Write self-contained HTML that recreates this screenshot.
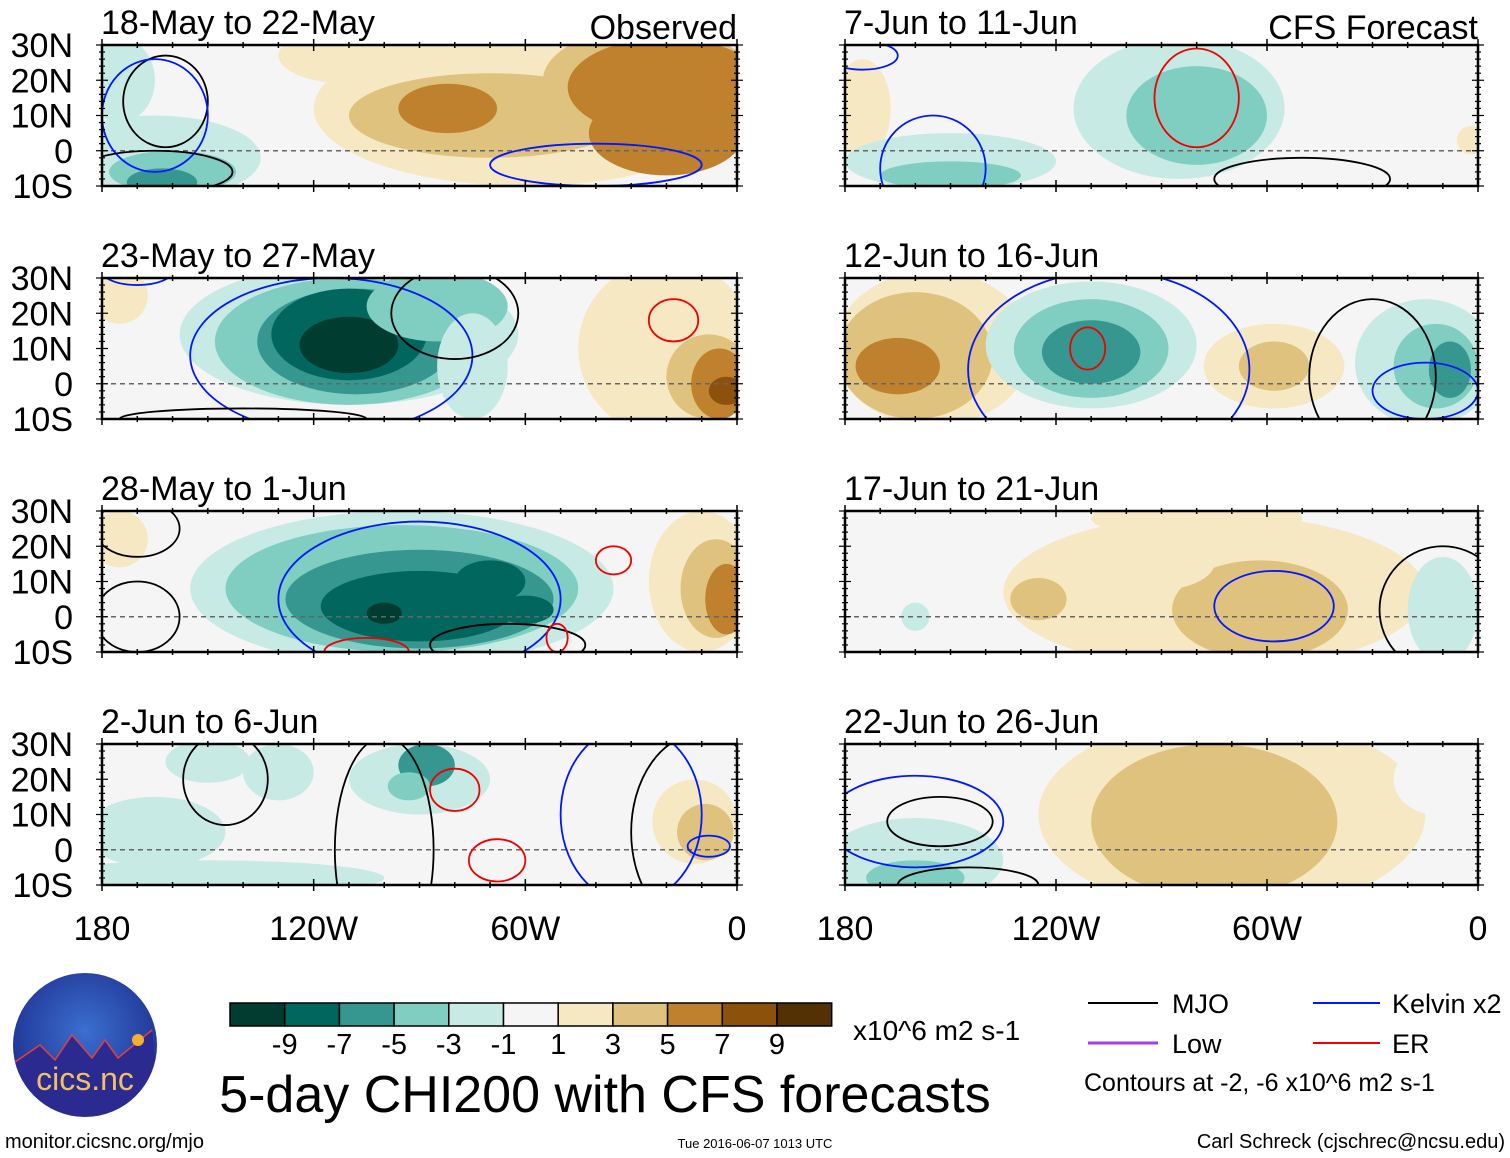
<!DOCTYPE html>
<html><head><meta charset="utf-8"><style>
body{margin:0;background:#fff;}
svg{display:block;font-family:"Liberation Sans",Arial,sans-serif;}
</style></head><body>
<svg id="chart" width="1510" height="1158" viewBox="0 0 1510 1158" xmlns="http://www.w3.org/2000/svg">
<g id="panels"></g>
<g id="colorbar"></g>
<g>
  <defs><radialGradient id="lg" cx="50%" cy="40%" r="60%"><stop offset="0" stop-color="#3a6fd0"/><stop offset="1" stop-color="#1e2f8f"/></radialGradient></defs>
  <circle cx="85" cy="1045" r="72" fill="url(#lg)"/>
  <path d="M15 1062 L40 1045 L55 1060 L72 1035 L92 1058 L105 1040 L118 1058 L152 1030 L155 1060 A72 72 0 0 1 15 1062Z" fill="#2a2a90"/>
  <path d="M15 1062 L40 1045 L55 1060 L72 1035 L92 1058 L105 1040 L118 1058 L152 1030" fill="none" stroke="#e04040" stroke-width="1.5"/>
  <circle cx="138" cy="1040" r="6" fill="#f5b030"/>
  <text x="85" y="1090" text-anchor="middle" font-size="32" fill="#f2c060">cics.nc</text>
</g>
<text x="5" y="1148" font-size="20">monitor.cicsnc.org/mjo</text>
<text x="755" y="1148" font-size="13" text-anchor="middle">Tue 2016-06-07 1013 UTC</text>
<text x="1505" y="1148" font-size="20" text-anchor="end">Carl Schreck (cjschrec@ncsu.edu)</text>
<text x="605" y="1112" font-size="52" text-anchor="middle">5-day CHI200 with CFS forecasts</text>
<text x="853" y="1040" font-size="28">x10^6 m2 s-1</text>
<g>
  <line x1="1088" y1="1003" x2="1158" y2="1003" stroke="#000" stroke-width="2"/><text x="1172" y="1013" font-size="27">MJO</text>
  <line x1="1313" y1="1003" x2="1380" y2="1003" stroke="#0018ff" stroke-width="2"/><text x="1392" y="1013" font-size="27">Kelvin x2</text>
  <line x1="1088" y1="1043" x2="1158" y2="1043" stroke="#a040f0" stroke-width="3"/><text x="1172" y="1053" font-size="27">Low</text>
  <line x1="1313" y1="1043" x2="1380" y2="1043" stroke="#f00000" stroke-width="2"/><text x="1392" y="1053" font-size="27">ER</text>
  <text x="1084" y="1091" font-size="25">Contours at -2, -6 x10^6 m2 s-1</text>
</g>
</svg>
<script>
const levelColors=["#003c30","#01665e","#35978f","#80cdc1","#c7eae5","#f5f5f5","#f6e8c3","#dfc27d","#bf812d","#8c510a","#543005"];
const scaleLabels=["-9","-7","-5","-3","-1","1","3","5","7","9"];
const panelTitles=["18-May to 22-May","23-May to 27-May","28-May to 1-Jun","2-Jun to 6-Jun","7-Jun to 11-Jun","12-Jun to 16-Jun","17-Jun to 21-Jun","22-Jun to 26-Jun"];
const latTicks=["30N","20N","10N","0","10S"];
const latValues=[30,20,10,0,-10];
const lonTicks=["180","120W","60W","0"];
const lonValues=[-180,-120,-60,0];
// anomaly blobs per panel: [lon, lat, rxDeg, ryDeg, levelIndex]
const blobs1=[[-60,12,60,22,6],[-110,27,20,8,6],[-70,10,40,12,7],[-25,20,30,15,7],[-20,18,28,14,8],[-20,5,22,12,8],[-82,12,14,7,8],[-165,-2,30,12,4],[-175,20,10,12,4],[-160,-6,18,6,3],[-163,-9,10,4,2]];
const blobs2=[[-20,10,25,25,6],[-8,2,12,12,7],[-5,0,8,10,8],[-3,-2,5,4,9],[-175,25,8,8,6],[-110,14,48,20,4],[-110,12,38,18,3],[-108,12,28,15,2],[-110,14,22,13,1],[-110,11,14,8,0],[-85,22,20,10,3],[-75,5,10,15,4]];
const blobs3=[[-10,10,15,20,6],[-6,8,10,14,7],[-3,5,6,10,8],[-175,22,8,8,6],[-95,8,60,22,4],[-95,8,50,18,3],[-90,5,38,14,2],[-90,3,28,10,1],[-100,1,5,3,0],[-70,10,10,6,1],[-60,2,8,4,1]];
const blobs4=[[-12,8,12,12,6],[-9,5,8,8,7],[-90,20,20,10,4],[-88,24,8,6,2],[-130,22,10,8,4],[-150,25,12,6,4],[-165,5,20,10,4],[-150,-8,50,5,4],[-93,18,6,4,3]];
const blobs5=[[-175,12,8,14,6],[-85,12,30,20,4],[-80,10,20,14,3],[-150,-3,30,8,4],[-150,-7,20,4,3],[-10,15,10,8,5],[-2,3,4,4,6]];
const blobs6=[[-155,10,28,22,6],[-160,8,22,18,7],[-165,5,12,8,8],[-110,11,30,18,4],[-110,10,22,14,3],[-110,9,14,9,2],[-58,5,20,12,6],[-58,5,10,7,7],[-15,6,20,18,4],[-12,5,12,12,3],[-8,4,6,8,2]];
const blobs7=[[-75,7,60,22,6],[-62,2,25,14,7],[-125,5,8,6,7],[-95,15,20,8,6],[-80,28,30,6,6],[-10,2,10,15,4],[-160,0,4,4,4]];
const blobs8=[[-70,10,55,28,6],[-75,8,35,22,7],[-160,-3,25,12,4],[-160,-8,14,5,3],[-12,20,12,10,5]];
// contours per panel: [lon, lat, rxDeg, ryDeg, kind] kind 0=MJO 1=Kelvin 2=ER
const cont1=[[-162,14,12,13,0],[-165,10,15,16,1],[-40,-4,30,6,1],[-165,-6,22,6,0]];
const cont2=[[-115,8,40,22,1],[-80,20,18,13,0],[-18,18,7,6,2],[-140,-10,35,3,0],[-170,32,10,4,1]];
const cont3=[[-90,5,40,22,1],[-170,0,12,10,0],[-170,25,12,8,0],[-65,-8,22,6,0],[-35,16,5,4,2],[-105,-10,12,4,2],[-51,-6,3,4,2]];
const cont4=[[-145,20,12,13,0],[-100,0,14,32,0],[-80,17,7,6,2],[-68,-3,8,6,2],[-30,10,20,25,1],[-8,1,6,3,1],[-10,5,20,28,0]];
const cont5=[[-155,-5,15,15,1],[-80,15,12,14,2],[-50,-8,25,6,0],[-175,27,10,4,1]];
const cont6=[[-105,4,40,28,1],[-111,10,5,6,2],[-30,2,18,22,0],[-15,-2,15,8,1]];
const cont7=[[-58,3,17,10,1],[-10,2,18,18,0]];
const cont8=[[-153,8,15,7,0],[-160,8,25,13,1],[-145,-10,20,5,0]];
const allBlobs=[blobs1,blobs2,blobs3,blobs4,blobs5,blobs6,blobs7,blobs8];
const allCont=[cont1,cont2,cont3,cont4,cont5,cont6,cont7,cont8];

const NS="http://www.w3.org/2000/svg";
function mk(tag,attrs,parent){const e=document.createElementNS(NS,tag);for(const k in attrs)e.setAttribute(k,attrs[k]);parent.appendChild(e);return e;}
const rowsY=[45,278,511,744], colX=[102,845], colW=[635,633], H=141;
const panelsG=document.getElementById('panels');
const kindColors=["#000","#0018ff","#f00000"];
for(let p=0;p<8;p++){
  const col=p<4?0:1,row=p%4,x0=colX[col],w=colW[col],y0=rowsY[row];
  const xs=lon=>x0+(lon+180)/180*w;
  const ys=lat=>y0+(30-lat)/40*H;
  const g=mk('g',{},panelsG);
  
  
  const cp=mk('clipPath',{id:'cp'+p},g);mk('rect',{x:x0,y:y0,width:w,height:H},cp);
  const inner=mk('g',{'clip-path':'url(#cp'+p+')'},g);
  mk('rect',{x:x0,y:y0,width:w,height:H,fill:levelColors[5]},inner);
  allBlobs[p].forEach(b=>{
    const e=mk('ellipse',{cx:xs(b[0]),cy:ys(b[1]),rx:b[2]/180*w,ry:b[3]/40*H,fill:levelColors[b[4]]},inner);
    
    
  });
  mk('line',{x1:x0,x2:x0+w,y1:ys(0),y2:ys(0),stroke:'#666','stroke-width':1.5,'stroke-dasharray':'5,4'},inner);
  allCont[p].forEach(c=>{
    const e=mk('ellipse',{cx:xs(c[0]),cy:ys(c[1]),rx:c[2]/180*w,ry:c[3]/40*H,fill:'none',stroke:kindColors[c[4]],'stroke-width':1.8},inner);
    
    
  });
  mk('rect',{x:x0,y:y0,width:w,height:H,fill:'none',stroke:'#000','stroke-width':2.5},g);
  for(let lon=-180;lon<=0;lon+=10){
    const big=lon%60===0,L=big?6:3;
    mk('line',{x1:xs(lon),x2:xs(lon),y1:y0-L,y2:y0+L,stroke:'#000','stroke-width':1.5},g);
    mk('line',{x1:xs(lon),x2:xs(lon),y1:y0+H-L,y2:y0+H+L,stroke:'#000','stroke-width':1.5},g);
  }
  for(let lat=-10;lat<=30;lat+=2){
    const L=lat%10===0?6:3;
    mk('line',{x1:x0-L,x2:x0+L,y1:ys(lat),y2:ys(lat),stroke:'#000','stroke-width':1.2},g);
    mk('line',{x1:x0+w-L,x2:x0+w+L,y1:ys(lat),y2:ys(lat),stroke:'#000','stroke-width':1.2},g);
  }
  const t=mk('text',{x:x0-1,y:y0-11,'font-size':34},g);t.textContent=panelTitles[p];
  
  
  if(col===0){
    latValues.forEach((v,i)=>{const tt=mk('text',{x:x0-29,y:ys(v)+12,'font-size':34,'text-anchor':'end'},g);tt.textContent=latTicks[i];
      
      });
  }
  if(row===0){
    const tt=mk('text',{x:x0+w,y:y0-6,'font-size':34,'text-anchor':'end'},g);tt.textContent=col===0?'Observed':'CFS Forecast';
    
    
  }
  if(row===3){
    lonValues.forEach((v,i)=>{const tt=mk('text',{x:xs(v),y:y0+H+55,'font-size':34,'text-anchor':'middle'},g);tt.textContent=lonTicks[i];
      
      });
  }
}
const cb=document.getElementById('colorbar');
const bx=230,bw=54.7,by=1003,bh=23;
levelColors.forEach((c,i)=>{
  const r=mk('rect',{x:bx+i*bw,y:by,width:bw,height:bh,fill:c,stroke:'#000','stroke-width':1.5},cb);
  
  
});
scaleLabels.forEach((s,i)=>{
  const t=mk('text',{x:bx+(i+1)*bw,y:1054,'font-size':29,'text-anchor':'middle'},cb);t.textContent=s;
  
  
});
</script>
</body></html>
